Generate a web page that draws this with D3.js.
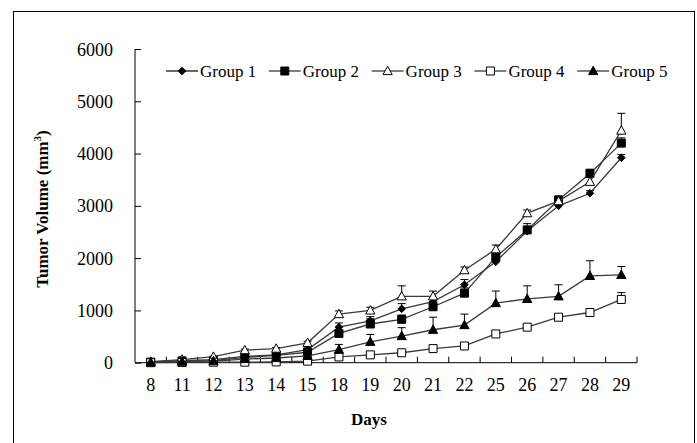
<html>
<head>
  <style type="text/css">
    body { margin: 0; background: #fff; }
    text { font-family: "Liberation Serif", "Times New Roman", serif; fill: #000; }
  </style>
</head>
<body>
  <div id="viz"></div>
  <script src="https://cdnjs.cloudflare.com/ajax/libs/d3/7.8.5/d3.min.js"></script>
  <script>
  // days on the x axis
  const days = ['8', '11', '12', '13', '14', '15', '18', '19', '20', '21', '22', '25', '26', '27', '28', '29'];

  // tumor volume per group (mm3)
  const group1 = [15, 40, 60, 120, 150, 250, 680, 800, 1030, 1170, 1490, 1930, 2520, 3000, 3240, 3920];
  const group2 = [10, 35, 40, 100, 140, 200, 560, 740, 830, 1070, 1330, 2020, 2540, 3110, 3620, 4200];
  const group3 = [20, 60, 115, 240, 270, 380, 930, 1000, 1270, 1270, 1770, 2170, 2860, 3090, 3460, 4440];
  const group4 = [0, 5, 10, 10, 15, 30, 110, 150, 190, 270, 320, 550, 680, 870, 960, 1210];
  const group5 = [5, 20, 30, 70, 90, 130, 250, 400, 510, 630, 720, 1140, 1220, 1270, 1660, 1680];

  // upper error bars
  const err1 = [5, 10, 10, 20, 20, 30, 80, 80, 100, 80, 100, 60, 80, 60, 50, 60];
  const err2 = [5, 10, 10, 20, 20, 40, 120, 100, 80, 80, 100, 100, 120, 80, 80, 100];
  const err3 = [5, 10, 10, 20, 20, 30, 60, 60, 200, 100, 60, 80, 60, 60, 100, 330];
  const err4 = [2, 3, 3, 5, 5, 10, 20, 20, 30, 30, 40, 40, 40, 40, 40, 130];
  const err5 = [3, 5, 5, 10, 10, 20, 100, 140, 160, 240, 210, 230, 250, 220, 290, 160];

  const names = ['Group 1', 'Group 2', 'Group 3', 'Group 4', 'Group 5'];
  const yTicks = [0, 1000, 2000, 3000, 4000, 5000, 6000];

  const series = [
    { name: names[0], values: group1, err: err1, shape: 'diamond', fill: '#000' },
    { name: names[1], values: group2, err: err2, shape: 'square', fill: '#000' },
    { name: names[2], values: group3, err: err3, shape: 'triangle', fill: '#fff' },
    { name: names[3], values: group4, err: err4, shape: 'square', fill: '#fff' },
    { name: names[4], values: group5, err: err5, shape: 'triangle', fill: '#000' }
  ];

  const width = 697, height = 443;
  const plot = { left: 135, right: 637, top: 49, bottom: 362.7 };

  const svg = d3.select('#viz').append('svg')
    .attr('width', width)
    .attr('height', height);

  // outer frame
  svg.append('rect')
    .attr('x', 13.5).attr('y', 11.5)
    .attr('width', 681).attr('height', 450)
    .attr('fill', 'none')
    .attr('stroke', '#000')
    .attr('stroke-width', 1);

  const x = d3.scaleBand()
    .domain(days)
    .range([plot.left, plot.right])
    .padding(0);

  const y = d3.scaleLinear()
    .domain([0, 6000])
    .range([plot.bottom, plot.top]);

  const cx = (d) => x(d) + x.bandwidth() / 2;

  // y axis
  const yAxis = svg.append('g')
    .attr('transform', 'translate(' + plot.left + ',0)')
    .call(d3.axisRight(y).tickValues(yTicks).tickSize(6).tickFormat(d3.format('d')));
  yAxis.select('.domain').attr('stroke', '#000').attr('d', 'M0,' + plot.top + 'V' + plot.bottom);
  yAxis.selectAll('.tick line').attr('stroke', '#000');
  yAxis.selectAll('.tick text')
    .attr('x', -22)
    .attr('dy', '0.34em')
    .attr('text-anchor', 'end')
    .style('font-size', '18px')
    .style('font-family', '"Liberation Serif", serif');

  // x axis, ticks between categories pointing up
  const xAxis = svg.append('g')
    .attr('transform', 'translate(0,' + plot.bottom + ')')
    .call(d3.axisBottom(x).tickSize(0).tickPadding(16));
  xAxis.select('.domain').attr('stroke', '#000').attr('d', 'M' + plot.left + ',0H' + plot.right);
  xAxis.selectAll('.tick text')
    .style('font-size', '18px')
    .style('font-family', '"Liberation Serif", serif');
  xAxis.selectAll('.sep')
    .data(days.slice(1).concat(['end']))
    .enter().append('line')
    .attr('class', 'sep')
    .attr('x1', (d, i) => i < days.length - 1 ? x(d) : plot.right)
    .attr('x2', (d, i) => i < days.length - 1 ? x(d) : plot.right)
    .attr('y1', 0).attr('y2', -6)
    .attr('stroke', '#000');

  const markerPath = (shape) => {
    if (shape === 'diamond') return 'M0,-3.8L3.8,0L0,3.8L-3.8,0Z';
    if (shape === 'square') return 'M-4,-4H4V4H-4Z';
    return 'M0,-4.8L4.6,3.6H-4.6Z';
  };

  const line = d3.line()
    .x((d, i) => cx(days[i]))
    .y((d) => y(d));

  series.forEach((s) => {
    const g = svg.append('g');

    g.append('path')
      .attr('d', line(s.values))
      .attr('fill', 'none')
      .attr('stroke', '#3a3a3a')
      .attr('stroke-width', 1.3);

    // error bars
    const eb = g.selectAll('.err')
      .data(s.values.map((v, i) => ({ v: v, e: s.err[i], day: days[i] })))
      .enter().append('g');
    eb.append('line')
      .attr('x1', (d) => cx(d.day)).attr('x2', (d) => cx(d.day))
      .attr('y1', (d) => y(d.v)).attr('y2', (d) => y(d.v + d.e))
      .attr('stroke', '#000').attr('stroke-width', 1);
    eb.append('line')
      .attr('x1', (d) => cx(d.day) - 4).attr('x2', (d) => cx(d.day) + 4)
      .attr('y1', (d) => y(d.v + d.e)).attr('y2', (d) => y(d.v + d.e))
      .attr('stroke', '#000').attr('stroke-width', 1);

    g.selectAll('.mk')
      .data(s.values)
      .enter().append('path')
      .attr('d', markerPath(s.shape))
      .attr('transform', (d, i) => 'translate(' + cx(days[i]) + ',' + y(d) + ')')
      .attr('fill', s.fill)
      .attr('stroke', '#000')
      .attr('stroke-width', 1);
  });

  // legend
  const legend = svg.append('g')
    .attr('transform', 'translate(166,71)');
  const item = legend.selectAll('g')
    .data(series)
    .enter().append('g')
    .attr('transform', (d, i) => 'translate(' + (i * 102.8) + ',0)');
  item.append('line')
    .attr('x1', 0).attr('x2', 32)
    .attr('y1', 0).attr('y2', 0)
    .attr('stroke', '#000').attr('stroke-width', 1.2);
  item.append('path')
    .attr('d', (d) => markerPath(d.shape))
    .attr('transform', 'translate(16,0)')
    .attr('fill', (d) => d.fill)
    .attr('stroke', '#000');
  item.append('text')
    .attr('x', 34)
    .attr('dy', '0.33em')
    .style('font-size', '17px')
    .text((d) => d.name);

  // axis titles
  svg.append('text')
    .attr('transform', 'translate(48,209) rotate(-90)')
    .attr('text-anchor', 'middle')
    .style('font-size', '17px')
    .style('font-weight', 'bold')
    .html('Tumor Volume (mm<tspan dy="-7" font-size="11">3</tspan><tspan dy="7">)</tspan>');

  svg.append('text')
    .attr('x', 369)
    .attr('y', 425)
    .attr('text-anchor', 'middle')
    .style('font-size', '17px')
    .style('font-weight', 'bold')
    .text('Days');
  </script>
</body>
</html>
